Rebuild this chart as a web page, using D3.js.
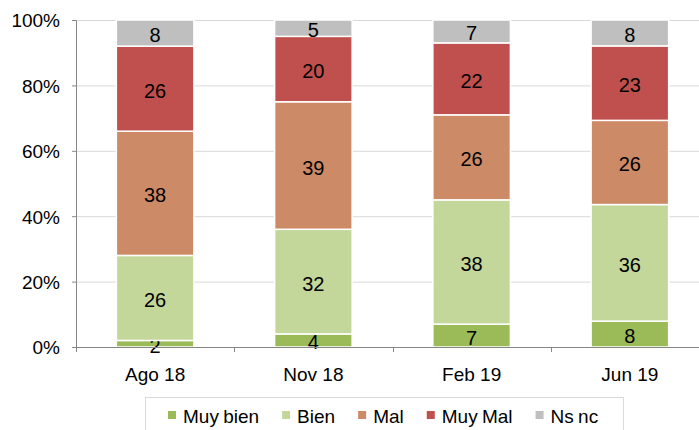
<!DOCTYPE html>
<html>
<head>
<meta charset="utf-8">
<script src="https://cdn.jsdelivr.net/npm/d3@7"></script>
<style>
	body { margin: 0; background: #fff; }
	svg { display: block; font-family: "Liberation Sans", Arial, sans-serif; }
</style>
</head>
<body>
<svg id="chart" width="699" height="430"></svg>
<script>
//data
var periods = ["Ago 18", "Nov 18", "Feb 19", "Jun 19"];
var seriesNames = ["Muy bien", "Bien", "Mal", "Muy Mal", "Ns nc"];
var muyBien = [2, 4, 7, 8];
var bien = [26, 32, 38, 36];
var mal = [38, 39, 26, 26];
var muyMal = [26, 20, 22, 23];
var nsNc = [8, 5, 7, 8];
var yTicks = [0, 0.2, 0.4, 0.6, 0.8, 1];
var colors = ["#9BBB59", "#C4D79B", "#CD8A66", "#C0504D", "#BFBFBF"];

var svg = d3.select("#chart");
var margin = {top: 20, left: 76};
var plotW = 633, plotH = 327;

//build table for stacking
var allSeries = [muyBien, bien, mal, muyMal, nsNc];
var rows = periods.map(function(p, i) {
	var r = {period: p};
	seriesNames.forEach(function(s, k) { r[s] = allSeries[k][i]; });
	return r;
});
var stacked = d3.stack().keys(seriesNames).offset(d3.stackOffsetExpand)(rows);

var x = d3.scaleBand().domain(periods).range([margin.left, margin.left + plotW]).paddingInner(0.51).paddingOuter(0.255);
var y = d3.scaleLinear().domain([0, 1]).range([margin.top + plotH, margin.top]);

//grid lines
svg.append("g").selectAll("line").data(yTicks.slice(1)).join("line")
	.attr("x1", margin.left).attr("x2", 699)
	.attr("y1", function(d) { return y(d) + 0.5; }).attr("y2", function(d) { return y(d) + 0.5; })
	.attr("stroke", "#D9D9D9").attr("stroke-width", 1);

//bars
var groups = svg.append("g").selectAll("g").data(stacked).join("g")
	.attr("fill", function(d, i) { return colors[i]; });
groups.selectAll("rect").data(function(d) { return d; }).join("rect")
	.attr("x", function(d) { return x(d.data.period); })
	.attr("width", x.bandwidth())
	.attr("y", function(d) { return y(d[1]); })
	.attr("height", function(d) { return y(d[0]) - y(d[1]); })
	.attr("stroke", "#fff").attr("stroke-width", 1.5);

//value labels
groups.each(function(s) {
	d3.select(this).selectAll("text").data(s).join("text")
		.attr("x", function(d) { return x(d.data.period) + x.bandwidth() / 2; })
		.attr("y", function(d) { return (y(d[0]) + y(d[1])) / 2 + 9; })
		.attr("text-anchor", "middle")
		.attr("font-size", 20)
		.attr("fill", "#000")
		.text(function(d) { return d.data[s.key]; });
});

//y axis
var yAxis = svg.append("g").attr("transform", "translate(" + margin.left + ",0)")
	.call(d3.axisLeft(y).tickValues(yTicks).tickFormat(d3.format(".0%")).tickSize(4).tickPadding(12));
yAxis.select(".domain").attr("stroke", "#868686");
yAxis.selectAll(".tick line").attr("stroke", "#868686");
yAxis.selectAll("text").attr("font-size", 19).attr("fill", "#000").attr("font-family", null).attr("dy", "0.36em");

//x axis with ticks between categories
var xAxisG = svg.append("g");
xAxisG.append("line")
	.attr("x1", margin.left).attr("x2", 699)
	.attr("y1", y(0) + 0.5).attr("y2", y(0) + 0.5)
	.attr("stroke", "#868686");
var bounds = periods.map(function(p, i) { return i === 0 ? margin.left : x(p) - (x.step() - x.bandwidth()) / 2; });
xAxisG.selectAll("line.tk").data(bounds).join("line").attr("class", "tk")
	.attr("x1", function(d) { return Math.round(d) + 0.5; }).attr("x2", function(d) { return Math.round(d) + 0.5; })
	.attr("y1", y(0)).attr("y2", y(0) + 5)
	.attr("stroke", "#868686");
xAxisG.selectAll("text").data(periods).join("text")
	.attr("x", function(d) { return x(d) + x.bandwidth() / 2; })
	.attr("y", 381)
	.attr("text-anchor", "middle")
	.attr("font-size", 19)
	.text(function(d) { return d; });

//legend
var legend = svg.append("g");
legend.append("rect")
	.attr("x", 145.5).attr("y", 397.5).attr("width", 478).attr("height", 40)
	.attr("fill", "#fff").attr("stroke", "#D9D9D9");
var lx = 168;
seriesNames.forEach(function(name, i) {
	legend.append("rect").attr("x", lx).attr("y", 411).attr("width", 8).attr("height", 8).attr("fill", colors[i]);
	var t = legend.append("text").attr("x", lx + 15).attr("y", 423)
		.attr("font-size", 19).attr("word-spacing", -1).text(name);
	lx = lx + 15 + t.node().getComputedTextLength() + 23;
});
</script>
</body>
</html>
